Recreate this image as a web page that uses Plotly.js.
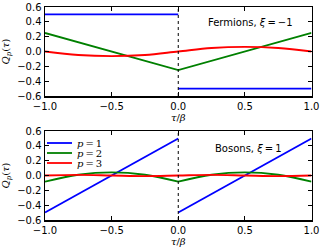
<!DOCTYPE html>
<html>
<head>
<meta charset="utf-8">
<script src="https://cdn.plot.ly/plotly-3.0.1.min.js"></script>
<style>html,body{margin:0;padding:0;background:#fff;}#plot{width:325px;height:250px;}</style>
</head>
<body>
<div id="plot"></div>
<script>
// tau/beta sample positions (null = break between branches)
const tauStep = [-1.0, 0.0, null, 0.0, 1.0];
const tauV = [-1.0, 0.0, 1.0];
const tauFull = [-1.0, -0.75, -0.5, -0.25, 0.0, 0.25, 0.5, 0.75, 1.0];
const tauSplit = [-1.0, -0.75, -0.5, -0.25, 0.0, null, 0.0, 0.25, 0.5, 0.75, 1.0];

// Fermions, xi = -1
const fermP1 = [0.5, 0.5, null, -0.5, -0.5];
const fermP2 = [0.25, -0.25, 0.25];
const fermP3 = [0.0, -0.047, -0.062, -0.047, 0.0, 0.047, 0.062, 0.047, 0.0];

// Bosons, xi = 1
const bosP1 = [-0.5, 0.5, null, -0.5, 0.5];
const bosP2 = [-0.083, 0.010, 0.042, 0.010, -0.083, null, -0.083, 0.010, 0.042, 0.010, -0.083];
const bosP3 = [0.0, 0.008, 0.0, -0.008, 0.0, 0.008, 0.0, -0.008, 0.0];

const seriesNames = ['<i>p</i>\u2009=\u20091', '<i>p</i>\u2009=\u20092', '<i>p</i>\u2009=\u20093'];
const colors = ['#0000ff', '#008000', '#ff0000'];
const xTicks = [-1.0, -0.5, 0.0, 0.5, 1.0];

const LW = 1.8;
const traces = [
  {x: tauStep, y: fermP1, xaxis: 'x', yaxis: 'y', mode: 'lines', line: {color: colors[0], width: LW}, connectgaps: false},
  {x: tauV, y: fermP2, xaxis: 'x', yaxis: 'y', mode: 'lines', line: {color: colors[1], width: LW}},
  {x: tauFull, y: fermP3, xaxis: 'x', yaxis: 'y', mode: 'lines', line: {color: colors[2], width: LW, shape: 'spline'}},
  {x: tauStep, y: bosP1, xaxis: 'x2', yaxis: 'y2', mode: 'lines', name: seriesNames[0], line: {color: colors[0], width: LW}, connectgaps: false},
  {x: tauSplit, y: bosP2, xaxis: 'x2', yaxis: 'y2', mode: 'lines', name: seriesNames[1], line: {color: colors[1], width: LW, shape: 'spline'}, connectgaps: false},
  {x: tauFull, y: bosP3, xaxis: 'x2', yaxis: 'y2', mode: 'lines', name: seriesNames[2], line: {color: colors[2], width: LW, shape: 'spline'}}
];

const tickFont = {family: 'DejaVu Sans', size: 10, color: '#000'};
const mathFont = {family: 'DejaVu Serif', size: 10, color: '#000'};
const W = 325, H = 250;
const xDom = [45/W, 311.5/W];

function xax(anchor, dom) {
  return {domain: dom, anchor: anchor, range: [-1, 1], tickvals: xTicks, tickformat: '.1f',
    ticks: 'inside', ticklen: 4, tickwidth: 1, tickcolor: '#000', showline: true, linecolor: '#000', linewidth: 1.5,
    mirror: 'ticks', showgrid: false, zeroline: false, tickfont: tickFont, automargin: false,
    title: {text: '<i>τ</i>/<i>β</i>', font: mathFont, standoff: 2}};
}
function yax(anchor, dom) {
  return {domain: dom, anchor: anchor, range: [-0.6, 0.6], dtick: 0.2, tick0: 0, tickformat: '.1f',
    ticks: 'inside', ticklen: 4, tickwidth: 1, tickcolor: '#000', showline: true, linecolor: '#000', linewidth: 1.5,
    mirror: 'ticks', showgrid: false, zeroline: false, tickfont: tickFont, automargin: false,
    title: {text: '<i>Q<sub>p</sub></i>(<i>τ</i>)', font: mathFont, standoff: 6}};
}

// hand-placed legend (lower panel, upper left) in paper coordinates
const legendRowsPx = [143, 153, 163];
const legendShapes = legendRowsPx.map((py, i) => ({type: 'line', xref: 'paper', yref: 'paper',
  x0: 47/W, x1: 72/W, y0: (H-py)/H, y1: (H-py)/H, line: {color: colors[i], width: LW}}));
const legendTexts = legendRowsPx.map((py, i) => ({xref: 'paper', yref: 'paper', x: 75/W, y: (H-py)/H,
  xanchor: 'left', yanchor: 'middle', showarrow: false, text: seriesNames[i],
  font: {family: 'DejaVu Serif', size: 10, color: '#000'}}));

const layout = {
  width: W, height: H,
  margin: {l: 0, r: 0, t: 0, b: 0},
  paper_bgcolor: '#fff', plot_bgcolor: '#fff',
  xaxis: xax('y', xDom),
  yaxis: yax('x', [(H-96)/H, (H-7)/H]),
  xaxis2: xax('y2', xDom),
  yaxis2: yax('x2', [(H-220)/H, (H-131)/H]),
  showlegend: false,
  shapes: [
    {type: 'line', xref: 'x', yref: 'y domain', x0: 0, x1: 0, y0: 0, y1: 1, line: {color: '#000', width: 1, dash: 'dot'}},
    {type: 'line', xref: 'x2', yref: 'y2 domain', x0: 0, x1: 0, y0: 0, y1: 1, line: {color: '#000', width: 1, dash: 'dot'}}
  ].concat(legendShapes),
  annotations: [
    {xref: 'paper', yref: 'paper', x: 206/W, y: (H-23)/H, xanchor: 'left', yanchor: 'middle', showarrow: false,
     text: 'Fermions, <i>ξ</i>\u2009=\u2009−1', font: {family: 'DejaVu Sans', size: 10, color: '#000'}},
    {xref: 'paper', yref: 'paper', x: 213/W, y: (H-148)/H, xanchor: 'left', yanchor: 'middle', showarrow: false,
     text: 'Bosons, <i>ξ</i>\u2009=\u20091', font: {family: 'DejaVu Sans', size: 10, color: '#000'}}
  ].concat(legendTexts)
};

Plotly.newPlot('plot', traces, layout, {staticPlot: true, displayModeBar: false});
</script>
</body>
</html>
